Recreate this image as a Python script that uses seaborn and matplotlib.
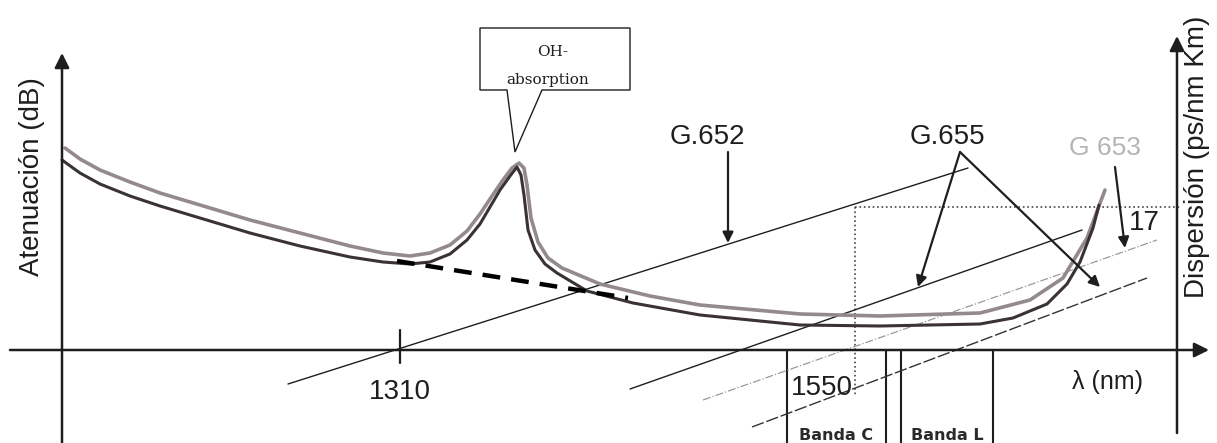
import numpy as np
import pandas as pd
import seaborn as sns
import matplotlib.pyplot as plt
from matplotlib.patches import Polygon

sns.set_theme(style="white")
plt.rcParams['font.family'] = ['Liberation Sans', 'DejaVu Sans']

# diagram frame: origin at the axis crossing, arbitrary units
# attenuation curve (lower, dark)
att_dark_x = [0, 18, 38, 68, 98, 138, 188, 238, 288, 321, 348, 368, 388, 405, 418, 428, 438, 448, 455,
              459, 462, 466, 473, 483, 495, 525, 571, 638, 738, 818, 918, 951, 985, 1005, 1018, 1031, 1037]
att_dark_y = [190, 177, 166, 154, 144, 132, 117, 104, 93, 88, 86, 88, 96, 110, 126, 143, 160, 174, 183,
              175, 155, 120, 100, 86, 77, 59, 47, 35, 25, 24, 26, 32, 46, 66, 88, 122, 145]
# attenuation curve (upper, grey)
att_grey_x = [3, 18, 38, 68, 98, 138, 188, 238, 288, 321, 348, 368, 388, 405, 418, 430, 441, 450, 457,
              462, 465, 469, 476, 486, 500, 538, 588, 638, 738, 818, 918, 968, 1001, 1025, 1043]
att_grey_y = [202, 191, 180, 168, 157, 145, 130, 117, 104, 97, 94, 97, 105, 119, 136, 154, 170, 182, 187,
              182, 165, 132, 108, 92, 82, 66, 54, 45, 36, 34, 37, 50, 72, 112, 160]
# attenuation without OH peak
no_oh_x = [335, 566]
no_oh_y = [89, 52]

# dispersion lines
g652_x, g652_y = [226, 906], [-34, 182]
g655a_x, g655a_y = [568, 1020], [-39, 120]
g653_x, g653_y = [641, 1095], [-50, 110]
g655b_x, g655b_y = [690, 1085], [-77, 72]

# reference marks
lambda_1310 = 338
lambda_1550 = 793
disp_17 = 143
band_edges = [725, 824, 839, 931]
band_names = ["Banda C", "Banda L"]

# label arrows (start, end)
arrows = [((666, 198), (666, 107)),
          ((898, 198), (856, 63)),
          ((898, 198), (1038, 63)),
          ((1053, 183), (1063, 102))]

fig = plt.figure(figsize=(12.17, 4.43), dpi=100)
ax = fig.add_axes([0, 0, 1, 1])
ax.set_xlim(-62, 1155)
ax.set_ylim(-93, 350)
ax.axis('off')

ink = '#1e1e1e'

# axes of the diagram
ax.annotate('', xy=(1147, 0), xytext=(-52, 0),
            arrowprops=dict(arrowstyle='-|>', color=ink, lw=1.8, mutation_scale=22, shrinkA=0, shrinkB=0))
ax.annotate('', xy=(0, 297), xytext=(0, -93),
            arrowprops=dict(arrowstyle='-|>', color=ink, lw=1.8, mutation_scale=22, shrinkA=0, shrinkB=0))
ax.annotate('', xy=(1115, 314), xytext=(1115, -83),
            arrowprops=dict(arrowstyle='-|>', color=ink, lw=1.8, mutation_scale=22, shrinkA=0, shrinkB=0))
ax.plot([lambda_1310, lambda_1310], [-13, 20], color=ink, lw=1.6)

# band boxes
for bx in band_edges:
    ax.plot([bx, bx], [0, -93], color=ink, lw=1.5)

# dotted guides for 1550 / 17
ax.plot([lambda_1550, 1118], [disp_17, disp_17], color='#444444', lw=1.2, ls=':')
ax.plot([lambda_1550, lambda_1550], [disp_17, -46], color='#444444', lw=1.2, ls=':')

# dispersion lines
sns.lineplot(x=g652_x, y=g652_y, ax=ax, color=ink, lw=1.0, sort=False, estimator=None)
sns.lineplot(x=g655a_x, y=g655a_y, ax=ax, color=ink, lw=1.0, sort=False, estimator=None)
sns.lineplot(x=g653_x, y=g653_y, ax=ax, color='#9a9a9a', lw=0.9, ls='-.', sort=False, estimator=None)
sns.lineplot(x=g655b_x, y=g655b_y, ax=ax, color='#333333', lw=1.0, ls=(0, (9, 2)), sort=False, estimator=None)

# attenuation curves
sns.lineplot(x=att_grey_x, y=att_grey_y, ax=ax, color='#948a8c', lw=2.6, sort=False, estimator=None)
sns.lineplot(x=att_dark_x, y=att_dark_y, ax=ax, color='#3a3234', lw=2.2, sort=False, estimator=None)
sns.lineplot(x=no_oh_x, y=no_oh_y, ax=ax, color='black', lw=3.2, ls=(0, (4, 2.5)), sort=False, estimator=None)

for start, end in arrows:
    ax.annotate('', xy=end, xytext=start,
                arrowprops=dict(arrowstyle='-|>', color=ink, lw=1.6, mutation_scale=16, shrinkA=0, shrinkB=0))

# OH callout
callout = Polygon([(418, 322), (568, 322), (568, 260), (480, 260), (453, 198), (445, 260), (418, 260)],
                  closed=True, facecolor='white', edgecolor=ink, lw=1.0, zorder=5)
ax.add_patch(callout)
ax.text(491, 298, "OH-", ha='center', va='center', fontsize=11, family=['DejaVu Serif'], color=ink, zorder=6)
ax.text(486, 270, "absorption", ha='center', va='center', fontsize=11, family=['DejaVu Serif'], color=ink, zorder=6)

# labels
ax.text(645, 213, "G.652", ha='center', va='center', fontsize=20, color=ink)
ax.text(885, 213, "G.655", ha='center', va='center', fontsize=20, color=ink)
ax.text(1043, 202, "G 653", ha='center', va='center', fontsize=19, color='#b4b4b4')
ax.text(1082, 127, "17", ha='center', va='center', fontsize=20, color=ink)
ax.text(lambda_1310, -42, "1310", ha='center', va='center', fontsize=20, color=ink)
ax.text(760, -38, "1550", ha='center', va='center', fontsize=20, color=ink)
ax.text(1046, -32, "λ (nm)", ha='center', va='center', fontsize=18, color=ink)
ax.text(-30, 173, "Atenuación (dB)", ha='center', va='center', rotation=90, fontsize=20, color=ink)
ax.text(1135, 193, "Dispersión (ps/nm Km)", ha='center', va='center', rotation=90, fontsize=20, color=ink)
for i, name in enumerate(band_names):
    cx = (band_edges[2 * i] + band_edges[2 * i + 1]) / 2
    ax.text(cx, -85, name, ha='center', va='center', fontsize=11.5, fontweight='bold',
            family=['DejaVu Sans'], color='#2a2a2a')

fig.savefig('out.png', dpi=100, facecolor='white')
